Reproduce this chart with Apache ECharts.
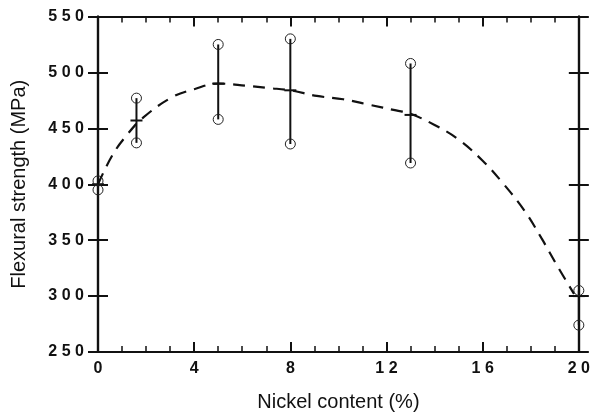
<!DOCTYPE html>
<html>
<head>
<meta charset="utf-8">
<script src="https://cdn.jsdelivr.net/npm/echarts@6/dist/echarts.min.js"></script>
<style>
  html, body { margin: 0; padding: 0; background: #fff; }
  #chart { width: 593px; height: 417px; }
</style>
</head>
<body>
<div id="chart"></div>
<script>
// nickel content (%) of each tested batch
const nickel = [0, 1.6, 5, 8, 13, 20];
// flexural strength range per batch (MPa)
const lowVals = [395, 437, 458, 436, 419, 274];
const highVals = [403, 477, 525, 530, 508, 305];
const meanVals = [400, 457, 490, 484, 462, 300];

// dashed trend curve
const trendX = [0, 0.6, 1.2, 1.9, 3.1, 4, 5, 6.2, 7.1, 8, 9.1, 10.2, 11.3, 12.4, 13, 14, 15, 16, 16.8, 17.75, 18.44, 19.13, 19.8];
const trendY = [400, 426, 444, 460, 478, 485, 490, 488, 486, 484, 479, 476, 471, 466, 463, 453, 440, 421, 402, 376, 352, 326, 302];

const yTicks = [250, 300, 350, 400, 450, 500, 550];
const xTicks = [0, 4, 8, 12, 16, 20];

const spaced = v => String(v).split('').join('\u2009\u200a');
const FONT = '"Liberation Sans", Arial, sans-serif';

const chart = echarts.init(document.getElementById('chart'));

const errData = nickel.map((x, i) => [x, lowVals[i], highVals[i], meanVals[i]]);
const trendData = trendX.map((x, i) => [x, trendY[i]]);

function renderErr(params, api) {
  const x = api.value(0);
  const lo = api.coord([x, api.value(1)]);
  const hi = api.coord([x, api.value(2)]);
  const mn = api.coord([x, api.value(3)]);
  const st = { stroke: '#111', fill: null, lineWidth: 2 };
  return {
    type: 'group',
    children: [
      { type: 'line', shape: { x1: lo[0], y1: lo[1], x2: hi[0], y2: hi[1] }, style: st },
      { type: 'line', shape: { x1: mn[0] - 6, y1: mn[1], x2: mn[0] + 6, y2: mn[1] }, style: st },
      { type: 'circle', shape: { cx: lo[0], cy: lo[1], r: 5 }, style: { stroke: '#222', fill: null, lineWidth: 1 } },
      { type: 'circle', shape: { cx: hi[0], cy: hi[1], r: 5 }, style: { stroke: '#222', fill: null, lineWidth: 1 } }
    ]
  };
}

const lineSt = { show: true, lineStyle: { color: '#111', width: 2.2 } };

function yAxisDef(pos, inside, labels) {
  return {
    type: 'value', position: pos, min: 250, max: 550, interval: 50,
    axisLine: lineSt,
    axisTick: { show: true, inside: inside, length: 10, lineStyle: { color: '#111', width: 2 } },
    axisLabel: labels ? {
      show: true, color: '#111', fontSize: 16, fontWeight: 'bold', fontFamily: FONT, margin: 14,
      formatter: v => yTicks.includes(v) ? spaced(v) : ''
    } : { show: false },
    splitLine: { show: false },
    name: labels ? 'Flexural strength (MPa)' : '',
    nameLocation: 'middle', nameGap: 69,
    nameTextStyle: { color: '#111', fontSize: 20, fontFamily: FONT }
  };
}

function xAxisDef(pos, labels) {
  return {
    type: 'value', position: pos, min: 0, max: 20, interval: 4,
    axisLine: lineSt,
    axisTick: { show: true, inside: true, length: 10, lineStyle: { color: '#111', width: 2 } },
    minorTick: { show: true, splitNumber: 4, length: 6, lineStyle: { color: '#111', width: 1.5 } },
    axisLabel: labels ? {
      show: true, color: '#111', fontSize: 16, fontWeight: 'bold', fontFamily: FONT, margin: 9,
      formatter: v => xTicks.includes(v) ? spaced(v) : ''
    } : { show: false },
    splitLine: { show: false },
    name: labels ? 'Nickel content (%)' : '',
    nameLocation: 'middle', nameGap: 40,
    nameTextStyle: { color: '#111', fontSize: 20, fontFamily: FONT }
  };
}

chart.setOption({
  backgroundColor: '#fff',
  animation: false,
  grid: { left: 98, right: 12, top: 16.5, bottom: 61.3, containLabel: false },
  xAxis: [xAxisDef('bottom', true), xAxisDef('top', false)],
  yAxis: [
    yAxisDef('left', false, true),
    yAxisDef('left', true, false),
    yAxisDef('right', false, false),
    yAxisDef('right', true, false)
  ],
  series: [
    {
      type: 'line', data: trendData, smooth: 0.4, symbol: 'none',
      xAxisIndex: 0, yAxisIndex: 0,
      lineStyle: { color: '#111', width: 2.2, type: [12, 8] }
    },
    {
      type: 'custom', data: errData, renderItem: renderErr, clip: false,
      xAxisIndex: 0, yAxisIndex: 0, z: 3
    }
  ]
});
</script>
</body>
</html>
